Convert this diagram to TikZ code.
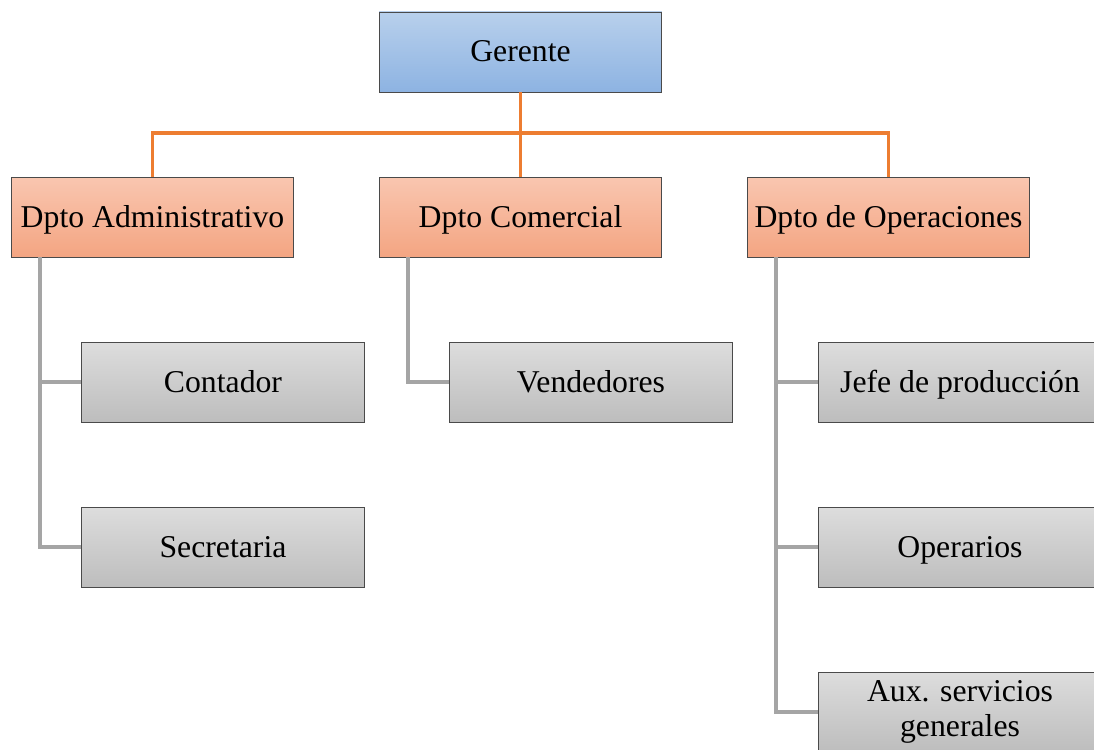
\documentclass[tikz,border=0pt]{standalone}
\usepackage{fontspec}
\setmainfont{Liberation Serif}
\usetikzlibrary{calc}
\definecolor{blueT}{HTML}{B8D0EC}
\definecolor{blueB}{HTML}{8DB3E2}
\definecolor{orT}{HTML}{F9C6B0}
\definecolor{orB}{HTML}{F4A582}
\definecolor{grT}{HTML}{DDDDDD}
\definecolor{grB}{HTML}{BDBDBD}
\definecolor{edge}{HTML}{4A4A4A}
\definecolor{orline}{HTML}{ED7D31}
\definecolor{grline}{HTML}{A5A5A5}
\tikzset{
  box/.style={draw=edge, line width=0.6pt, rectangle, minimum width=212pt, minimum height=60pt,
    inner sep=2pt, font=\fontsize{23.8}{26.5}\selectfont, align=center, text=black,
    text height=20pt, text depth=5pt},
  topbox/.style={box, top color=blueT, bottom color=blueB},
  deptbox/.style={box, top color=orT, bottom color=orB},
  subbox/.style={box, top color=grT, bottom color=grB},
  orgline/.style={draw=orline, line width=2.3pt},
  subline/.style={draw=grline, line width=2.3pt},
}
\begin{document}
\begin{tikzpicture}[x=0.75pt, y=-0.75pt]
\useasboundingbox (0,0) rectangle (1094,749);
\coordinate (bus) at (520.5,133);
\coordinate (av) at (40,257);
\coordinate (cv) at (408,257);
\coordinate (ov) at (776,257);
\node[topbox] (g) at (520.5,52) {Gerente};
\node[deptbox] (adm) at (152.5,217) {Dpto Administrativo};
\node[deptbox] (com) at (520.5,217) {Dpto Comercial};
\node[deptbox] (ops) at (888.5,217) {Dpto de Operaciones};
\node[subbox] (cont) at (223,382) {Contador};
\node[subbox] (sec) at (223,547) {Secretaria};
\node[subbox] (ven) at (591,382) {Vendedores};
\node[subbox] (jefe) at (960,382) {Jefe de producción};
\node[subbox] (oper) at (960,547) {Operarios};
\node[subbox, text height={}, text depth={}] (aux) at (960,712) {Aux. servicios\\generales};
\draw[orgline] (g.south) -- (bus);
\draw[orgline] (adm.north) |- (bus) -| (ops.north);
\draw[orgline] (com.north) -- (com.north |- bus);
\draw[subline] (av) |- (sec.west);
\draw[subline] (av |- cont.west) -- (cont.west);
\draw[subline] (cv) |- (ven.west);
\draw[subline] (ov) |- (aux.west);
\draw[subline] (ov |- jefe.west) -- (jefe.west);
\draw[subline] (ov |- oper.west) -- (oper.west);
\end{tikzpicture}
\end{document}
